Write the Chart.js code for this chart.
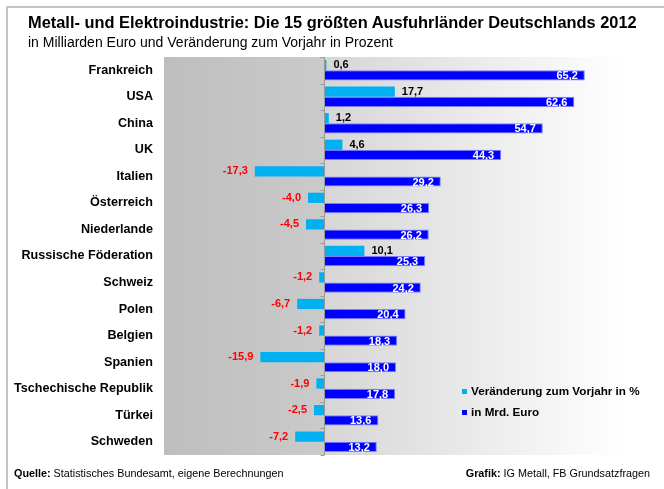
<!DOCTYPE html>
<html lang="de">
  <head>
    <meta charset="UTF-8" />
    <title>Ausfuhrländer Metall- und Elektroindustrie 2012</title>
    <style>
      body {
        margin: 0;
        padding: 0;
        width: 664px;
        height: 489px;
        background: #fff;
        font-family: Arial, "Liberation Sans", sans-serif;
        position: relative;
        overflow: hidden;
      }
      .frame {
        position: absolute;
        left: 6px;
        top: 6px;
        width: 670px;
        height: 500px;
        border-left: 2px solid #c4c4c4;
        border-top: 2px solid #c4c4c4;
      }
      .chart-box {
        position: absolute;
        left: 0;
        top: 0;
        width: 664px;
        height: 489px;
      }
      .title {
        position: absolute;
        left: 28px;
        top: 13px;
        font-size: 16.4px;
        font-weight: bold;
        color: #000;
        white-space: nowrap;
      }
      .subtitle {
        position: absolute;
        left: 28px;
        top: 34px;
        font-size: 14px;
        color: #000;
        white-space: nowrap;
      }
      .legend {
        position: absolute;
        left: 462px;
        top: 384px;
        font-size: 11.7px;
        font-weight: bold;
        color: #000;
      }
      .legend div {
        height: 21px;
        white-space: nowrap;
      }
      .legend span {
        display: inline-block;
        width: 5px;
        height: 5px;
        margin-right: 4px;
        vertical-align: 1px;
      }
      .footer {
        position: absolute;
        top: 467px;
        font-size: 10.8px;
        color: #000;
        white-space: nowrap;
      }
    </style>
  </head>
  <body>
    <div class="frame"></div>
    <div class="chart-box">
      <canvas id="chart" width="664" height="489"></canvas>
    </div>
    <div class="title">Metall- und Elektroindustrie: Die 15 größten Ausfuhrländer Deutschlands 2012</div>
    <div class="subtitle">in Milliarden Euro und Veränderung zum Vorjahr in Prozent</div>
    <div class="legend">
      <div><span style="background: #00b0f0"></span>Veränderung zum Vorjahr in %</div>
      <div><span style="background: #0000ff"></span>in Mrd. Euro</div>
    </div>
    <div class="footer" style="left: 14px"><b>Quelle:</b> Statistisches Bundesamt, eigene Berechnungen</div>
    <div class="footer" style="right: 14px"><b>Grafik:</b> IG Metall, FB Grundsatzfragen</div>

    <script src="https://cdn.jsdelivr.net/npm/chart.js"></script>
    <script>
      const countries = [
        "Frankreich",
        "USA",
        "China",
        "UK",
        "Italien",
        "Österreich",
        "Niederlande",
        "Russische Föderation",
        "Schweiz",
        "Polen",
        "Belgien",
        "Spanien",
        "Tschechische Republik",
        "Türkei",
        "Schweden",
      ];
      const changePercent = [
        0.6, 17.7, 1.2, 4.6, -17.3, -4.0, -4.5, 10.1, -1.2, -6.7, -1.2, -15.9,
        -1.9, -2.5, -7.2,
      ];
      const exportsBn = [
        65.2, 62.6, 54.7, 44.3, 29.2, 26.3, 26.2, 25.3, 24.2, 20.4, 18.3, 18.0,
        17.8, 13.6, 13.2,
      ];

      const FONT = "Arial, 'Liberation Sans', sans-serif";
      const fmt = (v) => v.toFixed(1).replace(".", ",");

      // gray-to-white plot background, zero line with small ticks
      const plotBackground = {
        id: "plotBackground",
        beforeDraw(chart) {
          const { ctx, chartArea: a, scales } = chart;
          const zero = scales.x.getPixelForValue(0);
          const z = (zero - a.left) / (a.right - a.left);
          const g = ctx.createLinearGradient(a.left, 0, a.right, 0);
          g.addColorStop(0, "#bebebe");
          g.addColorStop(z, "#cacaca");
          g.addColorStop(z + 0.001, "#d6d6d6");
          g.addColorStop(0.95, "#ffffff");
          g.addColorStop(1, "#ffffff");
          ctx.save();
          ctx.fillStyle = g;
          ctx.fillRect(a.left, a.top, a.right - a.left, a.bottom - a.top);
          ctx.restore();
        },
        afterDatasetsDraw(chart) {
          const { ctx, chartArea: a, scales } = chart;
          const zero = Math.round(scales.x.getPixelForValue(0)) + 0.5;
          ctx.save();
          ctx.strokeStyle = "#9a9a9a";
          ctx.lineWidth = 1;
          ctx.beginPath();
          ctx.moveTo(zero, a.top);
          ctx.lineTo(zero, a.bottom);
          for (let i = 0; i <= countries.length; i++) {
            const y = Math.round(a.top + (i * (a.bottom - a.top)) / countries.length) + 0.5;
            ctx.moveTo(zero - 4, y);
            ctx.lineTo(zero, y);
          }
          ctx.stroke();
          ctx.restore();
        },
      };

      const valueLabels = {
        id: "valueLabels",
        afterDraw(chart) {
          const { ctx } = chart;
          ctx.save();
          ctx.font = "bold 11px " + FONT;
          ctx.textBaseline = "middle";
          chart.getDatasetMeta(0).data.forEach((bar, i) => {
            const v = changePercent[i];
            if (v >= 0) {
              ctx.fillStyle = "#000";
              ctx.textAlign = "left";
              ctx.fillText(fmt(v), bar.x + 7, bar.y);
            } else {
              ctx.fillStyle = "#ff0000";
              ctx.textAlign = "right";
              ctx.fillText(fmt(v), bar.x - 7, bar.y);
            }
          });
          chart.getDatasetMeta(1).data.forEach((bar, i) => {
            ctx.fillStyle = "#fff";
            ctx.textAlign = "right";
            ctx.fillText(fmt(exportsBn[i]), bar.x - 7, bar.y + 1);
          });
          ctx.restore();
        },
      };

      new Chart(document.getElementById("chart"), {
        type: "bar",
        data: {
          labels: countries,
          datasets: [
            {
              label: "Veränderung zum Vorjahr in %",
              data: changePercent,
              backgroundColor: "#00b0f0",
              borderWidth: 0,
            },
            {
              label: "in Mrd. Euro",
              data: exportsBn,
              backgroundColor: "#0000ff",
              borderColor: "#8080ff",
              borderWidth: 1,
            },
          ],
        },
        options: {
          indexAxis: "y",
          responsive: false,
          animation: false,
          events: [],
          categoryPercentage: 0.77,
          barPercentage: 1.0,
          layout: {
            padding: { top: 57, bottom: 34, right: 14, left: 0 },
          },
          scales: {
            x: {
              min: -40,
              max: 81.5,
              display: true,
              ticks: { display: false },
              grid: { display: false, drawTicks: false },
              border: { display: false },
              afterFit(scale) {
                scale.height = 0;
              },
            },
            y: {
              grid: { display: false, drawTicks: false },
              border: { display: false },
              ticks: {
                color: "#000",
                padding: 11,
                font: { family: FONT, size: 12.6, weight: "bold" },
              },
              afterFit(scale) {
                scale.width = 164;
              },
            },
          },
          plugins: {
            legend: { display: false },
            tooltip: { enabled: false },
          },
        },
        plugins: [plotBackground, valueLabels],
      });
    </script>
  </body>
</html>
